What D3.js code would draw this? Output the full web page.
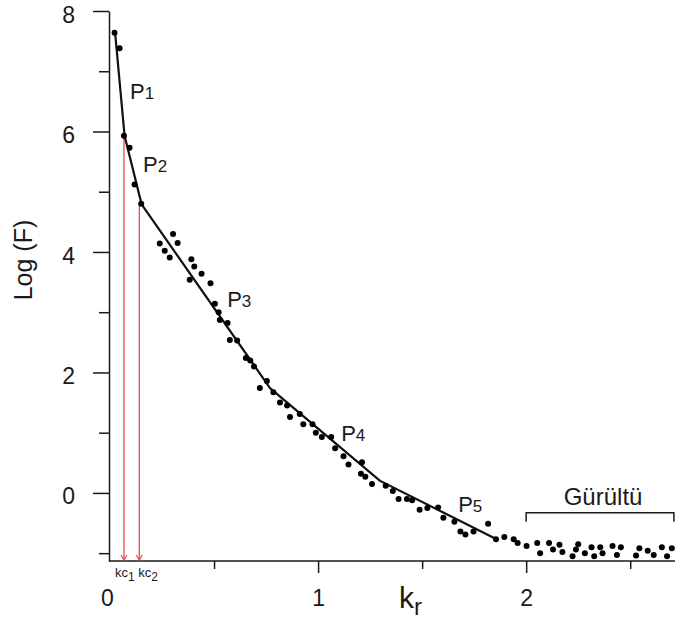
<!DOCTYPE html>
<html><head><meta charset="utf-8">
<script src="https://cdn.jsdelivr.net/npm/d3@7/dist/d3.min.js"></script>
<style>
body{margin:0;background:#fff}
svg{display:block}
text{font-family:"Liberation Sans",Arial,sans-serif;fill:#1a1a1a}
</style>
</head><body>
<svg id="chart" width="675" height="619"></svg>
<script>
// ---- data ----
const kr = [0.022,0.046,0.067,0.094,0.118,0.150,0.239,0.263,0.287,0.303,0.325,0.383,0.391,0.405,0.440,0.483,0.504,0.522,0.528,0.565,0.576,0.611,0.653,0.674,0.692,0.720,0.754,0.785,0.817,0.851,0.865,0.912,0.929,0.973,0.989,1.018,1.063,1.082,1.122,1.146,1.211,1.206,1.227,1.259,1.325,1.359,1.387,1.427,1.452,1.488,1.525,1.577,1.602,1.655,1.684,1.708,1.747,1.817,1.855,1.895,1.940,1.959,2.002,2.053,2.067,2.110,2.129,2.160,2.174,2.223,2.239,2.250,2.282,2.314,2.327,2.356,2.367,2.415,2.436,2.455,2.528,2.544,2.584,2.613,2.652,2.677,2.700];
const logF = [7.64,7.38,5.93,5.73,5.12,4.80,4.14,4.02,3.91,4.30,4.15,3.54,3.88,3.76,3.64,3.48,3.14,3.00,2.87,2.82,2.54,2.53,2.24,2.20,2.10,1.74,1.86,1.67,1.50,1.45,1.26,1.31,1.14,1.14,1.00,0.93,0.93,0.74,0.61,0.47,0.51,0.32,0.27,0.15,0.12,0.03,-0.10,-0.10,-0.12,-0.28,-0.25,-0.24,-0.41,-0.48,-0.64,-0.69,-0.64,-0.51,-0.77,-0.73,-0.77,-0.83,-0.88,-0.83,-1.00,-0.83,-0.94,-0.86,-0.98,-1.05,-0.94,-0.85,-1.00,-0.90,-1.05,-0.90,-1.00,-0.88,-1.03,-0.90,-1.04,-0.92,-0.96,-1.03,-0.90,-1.05,-0.92];
const fitKr = [0.024,0.070,0.152,0.769,1.298,1.865];
const fitLogF = [7.66,5.93,4.79,1.74,0.20,-0.78];
const kcValues = [0.067,0.141];
const kcTops = [5.93,4.77];
const kcNames = ["1","2"];
const segNames = ["1","2","3","4","5"];
const segAnchorKr = [0.096,0.159,0.563,1.111,1.673];
const segAnchorLogF = [6.54,5.33,3.09,0.86,-0.315];
const xMajor = [0,1,2];
const xMinor = [0.5,1.5,2.5];
const yMajor = [0,2,4,6,8];
const yMinor = [-1,1,3,5,7];
const noiseRange = [2.0,2.71];
const noiseLevel = -0.33;
const noiseLabel = "Gürültü";
const xTitle = ["k","r"];
const yTitle = "Log (F)";

// ---- drawing ----
const svg = d3.select("#chart");
const x = d3.scaleLinear().domain([0,2.72]).range([110,676]);
const y = d3.scaleLinear().domain([-1.13,8]).range([561,11]);
const ink = "#1a1a1a";

// y axis
const gy = svg.append("g").attr("transform","translate(109,0)");
gy.call(d3.axisLeft(y).tickValues(yMajor).tickSize(16).tickSizeOuter(0).tickPadding(18).tickFormat(d3.format("d")));
gy.call(g=>g.selectAll("text").attr("font-size",23).attr("dy","0.48em").style("font-family",'"Liberation Sans",Arial,sans-serif').attr("fill",ink));
const gy2 = svg.append("g").attr("transform","translate(109,0)");
gy2.call(d3.axisLeft(y).tickValues(yMinor).tickSize(10).tickSizeOuter(0).tickFormat(""));
gy2.select(".domain").remove();
[gy,gy2].forEach(g=>{g.selectAll("line,path").attr("stroke",ink).attr("stroke-width",1.5);});

// x axis
const gx = svg.append("g").attr("transform","translate(0,561)");
gx.call(d3.axisBottom(x).tickValues(xMajor).tickSize(12).tickSizeOuter(0).tickPadding(17).tickFormat(d3.format("d")));
gx.selectAll(".tick").filter(d=>d===0).select("line").remove();
gx.selectAll(".tick").filter(d=>d===0).select("text").attr("x",-3);
gx.selectAll("text").attr("font-size",23).attr("dy","0.71em").style("font-family",'"Liberation Sans",Arial,sans-serif').attr("fill",ink);
const gx2 = svg.append("g").attr("transform","translate(0,561)");
gx2.call(d3.axisBottom(x).tickValues(xMinor).tickSize(8).tickSizeOuter(0).tickFormat(""));
gx2.select(".domain").remove();
[gx,gx2].forEach(g=>{g.selectAll("line,path").attr("stroke",ink).attr("stroke-width",1.5);});
gx.select(".domain").attr("d",`M109,0H676`);

// axis titles
const xt = svg.append("text").attr("x",399).attr("y",608).attr("font-size",30);
xt.append("tspan").text(xTitle[0]);
xt.append("tspan").attr("font-size",24).attr("dy",7).text(xTitle[1]);
svg.append("text").attr("transform","translate(32,260) rotate(-90)").attr("text-anchor","middle").attr("font-size",25).text(yTitle);

// kc red lines
const red = "#f04848";
kcValues.forEach((k,i)=>{
  const px = x(k);
  svg.append("line").attr("x1",px).attr("x2",px).attr("y1",y(kcTops[i])).attr("y2",y.range()[0]-1)
    .attr("stroke",red).attr("stroke-width",1.3);
  svg.append("path").attr("d",`M${px-3},${y.range()[0]-6}L${px},${y.range()[0]-1}L${px+3},${y.range()[0]-6}`)
    .attr("fill","none").attr("stroke",red).attr("stroke-width",1.2);
});
// kc labels
const kcShift = [-9,-1];
kcValues.forEach((k,i)=>{
  const t = svg.append("text").attr("x",x(k)+kcShift[i]).attr("y",577).attr("font-size",13);
  t.append("tspan").text("kc");
  t.append("tspan").attr("font-size",12).attr("dy",4).text(kcNames[i]);
});

// fitted line
const pts = fitKr.map((k,i)=>[k,fitLogF[i]]);
svg.append("path").datum(pts)
  .attr("d",d3.line().x(d=>x(d[0])).y(d=>y(d[1])))
  .attr("fill","none").attr("stroke","#111").attr("stroke-width",2.2).attr("stroke-linejoin","round");

// dots
svg.append("g").selectAll("circle").data(kr.map((k,i)=>[k,logF[i]])).join("circle")
  .attr("cx",d=>x(d[0])).attr("cy",d=>y(d[1])).attr("r",3).attr("fill","#000");

// segment labels
segNames.forEach((s,i)=>{
  const t = svg.append("text").attr("x",x(segAnchorKr[i])).attr("y",y(segAnchorLogF[i])).attr("font-size",22);
  t.append("tspan").text("P");
  t.append("tspan").attr("font-size",17).text(s);
});

// noise bracket
const bx0 = x(noiseRange[0]), bx1 = x(noiseRange[1]), by = y(noiseLevel);
svg.append("path").attr("d",`M${bx0},${by+9}V${by}H${bx1}V${by+9}`)
  .attr("fill","none").attr("stroke",ink).attr("stroke-width",1.5);
svg.append("text").attr("x",(bx0+bx1)/2+3).attr("y",by-8).attr("text-anchor","middle").attr("font-size",24).text(noiseLabel);
</script>
</body></html>
